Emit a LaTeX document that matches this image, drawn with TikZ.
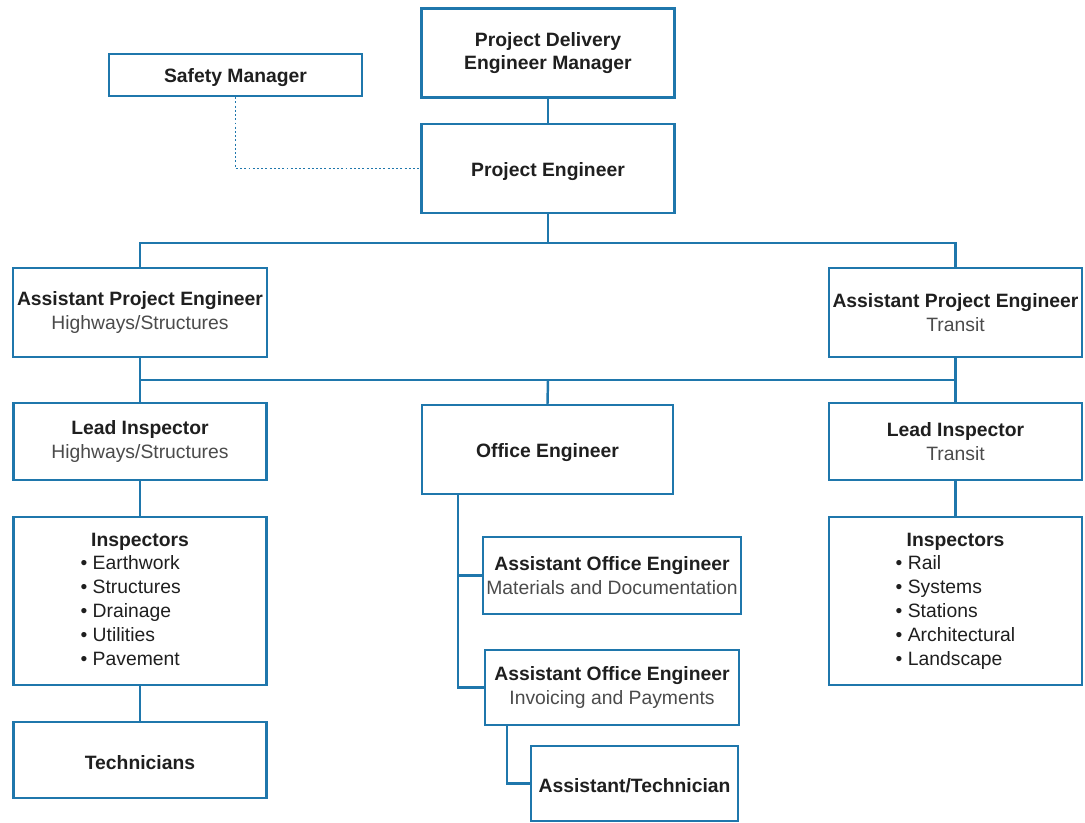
\documentclass[tikz,border=0pt]{standalone}
\usepackage{fontspec}
\setmainfont{Liberation Sans}
\usepackage{tikz}
\usetikzlibrary{positioning, calc}
\definecolor{orgblue}{RGB}{31,119,172}
\definecolor{subgray}{RGB}{75,75,75}
\tikzset{orgbox/.style={draw=orgblue, line width=1.4pt, fill=white, inner sep=2pt, align=center, minimum width=5.06cm, minimum height=1.78cm, font=\fontsize{11}{13.6}\selectfont\bfseries, text=black!88, execute at begin node={\rule{0pt}{11pt}}},
    listbox/.style={orgbox, execute at begin node={}},
    link/.style={draw=orgblue, line width=1.4pt},
    dotlink/.style={draw=orgblue, line width=1.1pt, dash pattern=on 1.1pt off 1.3pt}}
\newcommand{\sub}[1]{{\mdseries\color{subgray}#1}}
\newcommand{\insplist}[5]{\begin{tabular}{@{}l@{}}\multicolumn{1}{c}{Inspectors}\\ \mdseries\textbullet\ #1\\ \mdseries\textbullet\ #2\\ \mdseries\textbullet\ #3\\ \mdseries\textbullet\ #4\\ \mdseries\textbullet\ #5\end{tabular}}

\begin{document}
\begin{tikzpicture}[x=0.02cm, y=-0.02cm]
                 \useasboundingbox (0,0) rectangle (1085,822);

                 % top of the chart
                 \node[orgbox] (pdem) at (548,53) {Project Delivery\\Engineer Manager};
                 \node[orgbox, minimum height=0.84cm] (safety) at (235.5,75) {Safety Manager};
                 \node[orgbox] (pe) at (548,168.5) {Project Engineer};

                 % assistant project engineers
                 \node[orgbox, minimum width=5.08cm] (apel) at (140,312.5) {Assistant Project Engineer\\\sub{Highways/Structures}};
                 \node[orgbox] (aper) at (955.5,312.5) {Assistant Project Engineer\\\sub{Transit}};

                 % third row
                 \node[orgbox, minimum height=1.54cm] (leadl) at (140,441.5) {Lead Inspector\\\sub{Highways/Structures}};
                 \node[orgbox, minimum width=5.02cm] (office) at (547.5,449.5) {Office Engineer};
                 \node[orgbox, minimum height=1.54cm] (leadr) at (955.5,441.5) {Lead Inspector\\\sub{Transit}};

                 % inspectors and technicians
                 \node[listbox, minimum height=3.36cm] (inspl) at (140,601) {\insplist{Earthwork}{Structures}{Drainage}{Utilities}{Pavement}};
                 \node[listbox, minimum height=3.36cm] (inspr) at (955.5,601) {\insplist{Rail}{Systems}{Stations}{Architectural}{Landscape}};
                 \node[orgbox, minimum height=1.52cm] (tech) at (140,760) {Technicians};

                 % office staff
                 \node[orgbox, minimum width=5.08cm, minimum height=1.54cm] (aoe1) at (612,575.5) {Assistant Office Engineer\\\sub{Materials and Documentation}};
                 \node[orgbox, minimum width=5.08cm, minimum height=1.5cm] (aoe2) at (612,687.5) {Assistant Office Engineer\\\sub{Invoicing and Payments}};
                 \node[orgbox, minimum width=4.14cm, minimum height=1.5cm] (asst) at (634.5,783.5) {Assistant/Technician};

                 \coordinate (busa) at (548,243);
                 \coordinate (busb) at (548,380);

                 \draw[link] (pdem.south) -- (pe.north);
                 \draw[dotlink] (safety.south) |- (pe.west);
                 \draw[link] (pe.south) -- (busa);
                 \draw[link] (apel.north) |- (busa) -| (aper.north);

                 \draw[link] (apel.south) -- (leadl.north);
                 \draw[link] (aper.south) -- (leadr.north);
                 \draw[link] (apel.south |- busb) -- (aper.south |- busb);
                 \draw[link] (busb) -- (office.north);

                 \draw[link] (leadl.south) -- (inspl.north);
                 \draw[link] (inspl.south) -- (tech.north);
                 \draw[link] (leadr.south) -- (inspr.north);

                 \draw[link] ($(office.south west)+(37,0)$) |- (aoe1.west);
                 \draw[link] ($(office.south west)+(37,0)$) |- (aoe2.west);
                 \draw[link] ($(aoe2.south west)+(23,0)$) |- (asst.west);

                 \end{tikzpicture}
\end{document}
